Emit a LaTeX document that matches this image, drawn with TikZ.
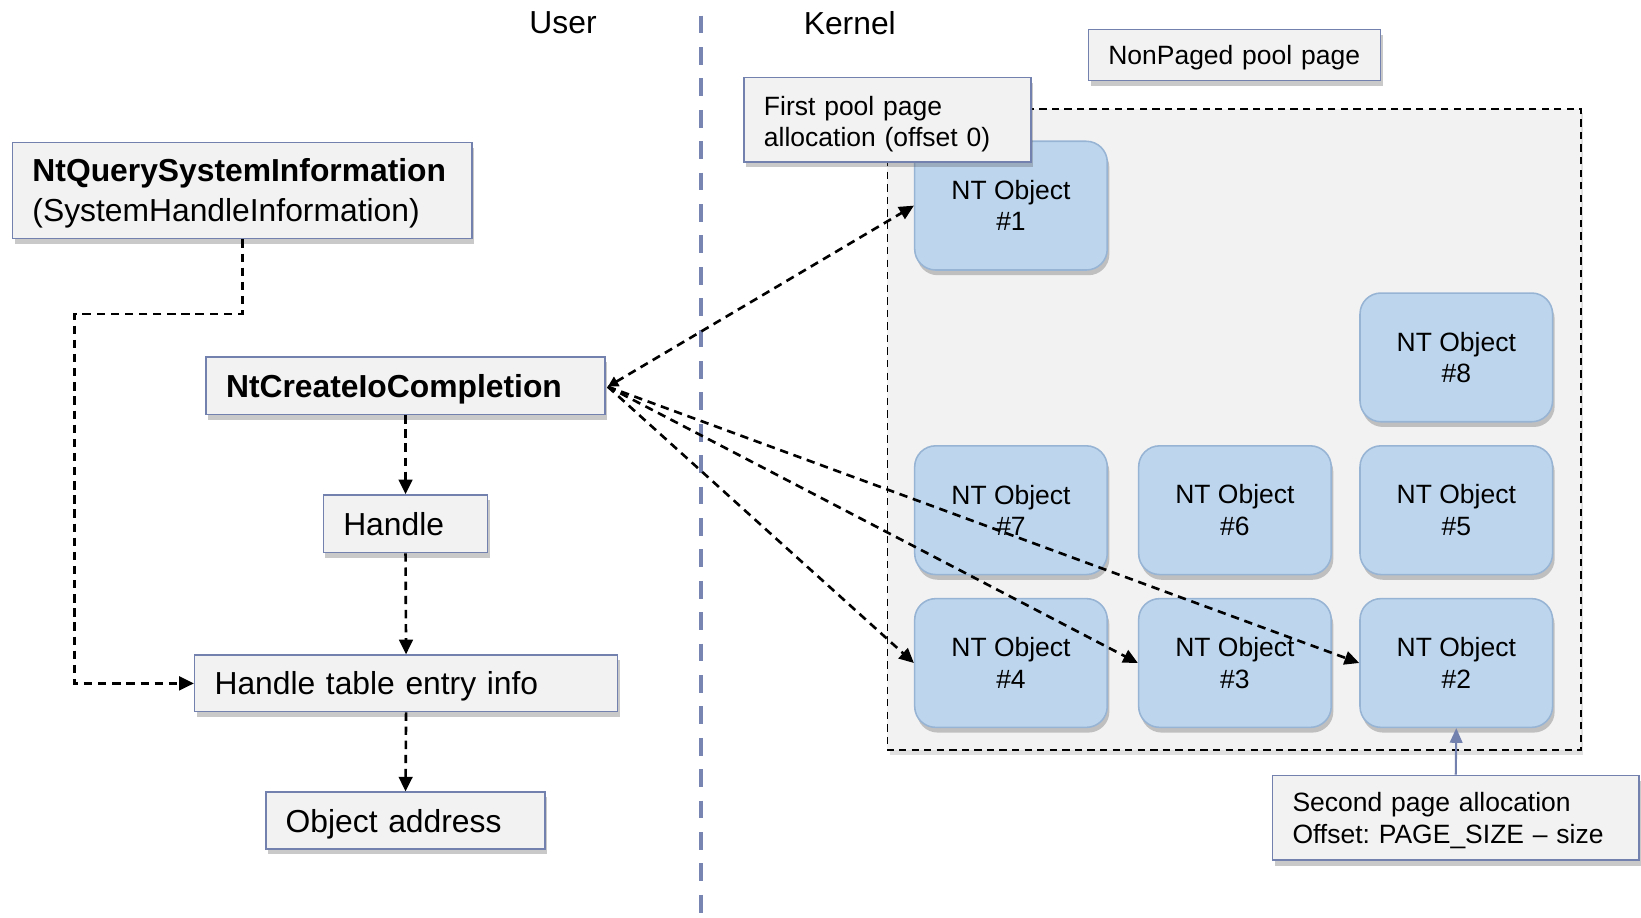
\documentclass[tikz,border=0pt]{standalone}
\usepackage{fontspec}
\setmainfont{Liberation Sans}
\usetikzlibrary{arrows.meta,shadows}
\definecolor{boxfill}{HTML}{F2F2F2}
\definecolor{boxline}{HTML}{7381AE}
\definecolor{objfill}{HTML}{BDD6EE}
\definecolor{objline}{HTML}{98B4D4}
\definecolor{sepline}{HTML}{7884B2}
\frenchspacing
\begin{document}
\begin{tikzpicture}[x=1pt,y=-1pt,
  big/.style={font=\fontsize{30.4}{38}\selectfont},
  small/.style={font=\fontsize{25.3}{30}\selectfont},
  shad/.style={drop shadow={shadow xshift=2pt,shadow yshift=-5pt,opacity=0.3,fill=black!70}},
  box/.style={draw=boxline,line width=1.5pt,fill=boxfill,inner xsep=19pt,inner ysep=0pt,align=left,shad},
  oneline/.style={text depth=-2pt},
  plain/.style={inner sep=0pt,align=left},
  obj/.style={draw=objline,line width=1.5pt,fill=objfill,rounded corners=20pt,minimum width=184pt,minimum height=123pt,align=center,small,shad},
  conn/.style={line width=2.5pt,dash pattern=on 8pt off 5.5pt,-{Triangle[length=14pt,width=13pt]}},
  lbl/.style={big,inner sep=0pt}]
\useasboundingbox (0,0) rectangle (1568,877);
% separator
\draw[sepline,line width=3.8pt,dash pattern=on 17pt off 13pt] (670,15) -- (670,877);
\node[lbl] (user) at (538,22) {User};
\node[lbl] (kernel) at (812,22) {Kernel};
% pool page
\draw[line width=1.8pt,dash pattern=on 7pt off 5pt,fill=boxfill,drop shadow={shadow xshift=2pt,shadow yshift=-4pt,opacity=0.2,fill=black!60}] (848,104) rectangle (1511,717);
% objects
\node[obj] (o1) at (966,196.5) {NT Object\\\#1};
\node[obj] (o8) at (1391.5,341.5) {NT Object\\\#8};
\node[obj] (o7) at (966,487.5) {NT Object\\\#7};
\node[obj] (o6) at (1180,487.5) {NT Object\\\#6};
\node[obj] (o5) at (1391.5,487.5) {NT Object\\\#5};
\node[obj] (o4) at (966,633.5) {NT Object\\\#4};
\node[obj] (o3) at (1180,633.5) {NT Object\\\#3};
\node[obj] (o2) at (1391.5,633.5) {NT Object\\\#2};
% labels
\node[box,inner sep=0pt,minimum width=274pt,minimum height=81pt] (fp) at (848,114.5) {};
\node[plain,small,text width=236pt] (fpt) at ([yshift=-4pt]fp.center) {First pool page\\allocation (offset 0)};
\node[box,small,oneline,text depth=-3pt,text width=241pt,minimum height=49pt] (np) at (1179.5,52.5) {NonPaged pool page};
\node[box,inner sep=0pt,minimum width=350pt,minimum height=81pt] (sp) at (1391,781.5) {};
\node[plain,small,text width=312pt] (spt) at ([yshift=-2.5pt]sp.center) {Second page allocation\\Offset: PAGE\_SIZE -- size};
% user side boxes
\node[box,inner sep=0pt,minimum width=439pt,minimum height=92pt] (nq) at (231.5,182) {};
\node[plain,big,text width=401pt] (nqt) at ([yshift=-3pt]nq.center) {\textbf{NtQuerySystemInformation}\\(SystemHandleInformation)};
\node[box,big,oneline,text width=343pt,minimum height=55pt] (nc) at (387.5,368.5) {\textbf{NtCreateIoCompletion}};
\node[box,big,oneline,text width=119pt,minimum height=55pt] (hd) at (387.5,500.5) {Handle};
\node[box,big,oneline,text width=366pt,minimum height=54pt] (hte) at (388,653) {Handle table entry info};
\node[box,big,oneline,text width=229pt,minimum height=54pt] (oa) at (387.5,784) {Object address};
% connectors
\draw[conn] (nq.south) |- (71,300) |- (hte.west);
\draw[conn] (nc.south) -- (hd.north);
\draw[conn] (hd.south) -- (hte.north);
\draw[conn] (hte.south) -- (oa.north);
\draw[conn,{Triangle[length=10pt,width=10pt]}-{Triangle[length=14pt,width=13pt]}] (nc.east) ++(2pt,-1pt) coordinate (s) -- (o1.west);
\draw[conn] (s) -- (o4.west);
\draw[conn] (s) -- (o3.west);
\draw[conn] (s) -- (o2.west);
\draw[boxline,line width=2pt,-{Triangle[length=14pt,width=12pt]}] (sp.north) -- (o2.south);
\end{tikzpicture}
\end{document}
